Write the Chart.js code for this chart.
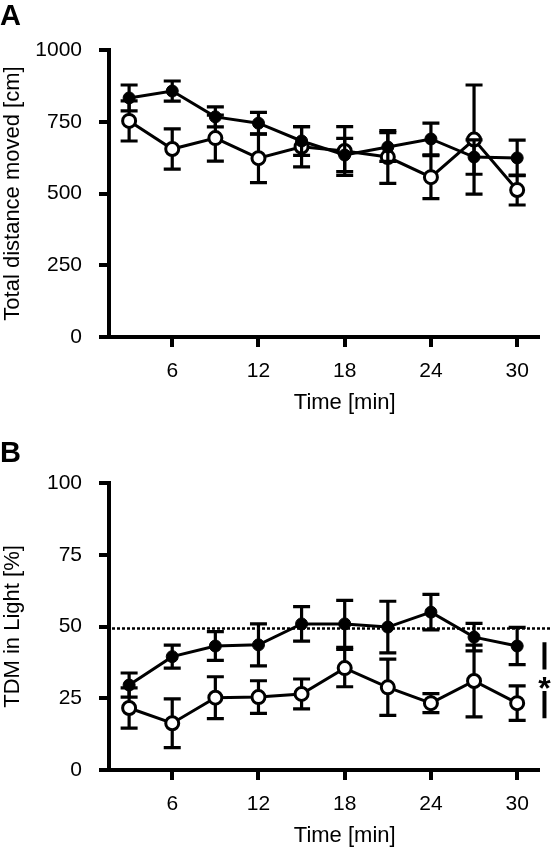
<!DOCTYPE html>
<html>
<head>
<meta charset="utf-8">
<script src="https://cdn.jsdelivr.net/npm/chart.js@4.4.1/dist/chart.umd.min.js"></script>
<style>
    html, body { margin: 0; padding: 0; background: #fff; }
    #wrap { position: relative; width: 552px; height: 853px; }
    canvas { position: absolute; left: 0; }
    #chartA { top: 0; }
    #chartB { top: 433px; }
</style>
</head>
<body>
<div id="wrap">
    <canvas id="chartA" width="552" height="433"></canvas>
    <canvas id="chartB" width="552" height="420"></canvas>
</div>
<script>
// time bins (min)
const timeMin = [3, 6, 9, 12, 15, 18, 21, 24, 27, 30];
const xTicks = [6, 12, 18, 24, 30];

// panel A: total distance moved [cm], mean and SEM
const distTicks = [0, 250, 500, 750, 1000];
const distFilled = [833, 857, 767, 745, 683, 634, 662, 690, 627, 624];
const distFilledErr = [45, 35, 35, 38, 50, 58, 50, 55, 60, 62];
const distOpen = [753, 655, 693, 623, 663, 648, 627, 557, 688, 512];
const distOpenErr = [70, 70, 80, 85, 70, 85, 92, 75, 190, 52];

// panel B: TDM in light [%], mean and SEM
const lightTicks = [0, 25, 50, 75, 100];
const lightFilled = [29.6, 39.5, 43.2, 43.6, 50.9, 50.9, 49.8, 55.0, 46.3, 43.2];
const lightFilledErr = [4.2, 4.0, 5.0, 7.3, 6.0, 8.2, 9.0, 6.2, 4.8, 6.5];
const lightOpen = [21.6, 16.3, 25.2, 25.4, 26.5, 35.5, 28.8, 23.3, 31.0, 23.3];
const lightOpenErr = [7.0, 8.5, 7.3, 5.7, 5.2, 6.5, 9.8, 3.3, 12.5, 6.0];
const chanceLevel = 49.3;

const fontFamily = '"Liberation Sans", Arial, Helvetica, sans-serif';

// error bars, drawn just before each dataset so the open circles cover them
const errorBars = {
    id: 'errorBars',
    beforeDatasetDraw(chart, args) {
        const ds = chart.data.datasets[args.index];
        if (!ds.errors) return;
        const { ctx, scales: { x, y } } = chart;
        ctx.save();
        ctx.strokeStyle = '#000';
        ctx.lineWidth = 3.2;
        ds.data.forEach((pt, i) => {
            const px = x.getPixelForValue(pt.x);
            const top = y.getPixelForValue(pt.y + ds.errors[i]);
            const bot = y.getPixelForValue(pt.y - ds.errors[i]);
            ctx.beginPath();
            ctx.moveTo(px, top); ctx.lineTo(px, bot);
            ctx.moveTo(px - 8.5, top); ctx.lineTo(px + 8.5, top);
            ctx.moveTo(px - 8.5, bot); ctx.lineTo(px + 8.5, bot);
            ctx.stroke();
        });
        ctx.restore();
    }
};

// panel letter, axis titles, reference line, significance mark
const panelDecor = {
    id: 'panelDecor',
    afterDraw(chart, args, opts) {
        const { ctx, chartArea, scales: { x, y } } = chart;
        ctx.save();
        ctx.fillStyle = '#000';
        ctx.strokeStyle = '#000';

        ctx.font = `bold 29px ${fontFamily}`;
        ctx.textAlign = 'left';
        ctx.textBaseline = 'top';
        ctx.fillText(opts.letter, 0, opts.letterTop);

        ctx.font = `22px ${fontFamily}`;
        ctx.textAlign = 'center';
        ctx.textBaseline = 'middle';
        ctx.fillText(opts.xTitle, x.getPixelForValue(18), y.getPixelForValue(0) + 66);

        ctx.save();
        ctx.translate(13, (chartArea.top + chartArea.bottom) / 2);
        ctx.rotate(-Math.PI / 2);
        ctx.fillText(opts.yTitle, 0, 0);
        ctx.restore();

        if (opts.refLevel != null) {
            const ry = y.getPixelForValue(opts.refLevel);
            ctx.lineWidth = 2.5;
            ctx.setLineDash([3, 2]);
            ctx.beginPath();
            ctx.moveTo(chartArea.left + 3, ry);
            ctx.lineTo(550, ry);
            ctx.stroke();
            ctx.setLineDash([]);
        }

        if (opts.sig) {
            const sx = x.getPixelForValue(opts.sig.x);
            ctx.lineWidth = 4;
            ctx.beginPath();
            ctx.moveTo(sx, y.getPixelForValue(opts.sig.upper[0]));
            ctx.lineTo(sx, y.getPixelForValue(opts.sig.upper[1]));
            ctx.moveTo(sx, y.getPixelForValue(opts.sig.lower[0]));
            ctx.lineTo(sx, y.getPixelForValue(opts.sig.lower[1]));
            ctx.stroke();
            ctx.font = `bold 32px ${fontFamily}`;
            ctx.textAlign = 'center';
            ctx.textBaseline = 'alphabetic';
            ctx.fillText('*', sx, y.getPixelForValue(opts.sig.star) + 18);
        }
        ctx.restore();
    }
};

function makeDatasets(filled, filledErr, open, openErr) {
    return [
        {
            data: timeMin.map((t, i) => ({ x: t, y: filled[i] })),
            errors: filledErr,
            borderColor: '#000',
            borderWidth: 3,
            pointRadius: 6,
            pointBorderWidth: 1,
            pointBackgroundColor: '#000',
            pointBorderColor: '#000',
            clip: false,
        },
        {
            data: timeMin.map((t, i) => ({ x: t, y: open[i] })),
            errors: openErr,
            borderColor: '#000',
            borderWidth: 3,
            pointRadius: 6.5,
            pointBorderWidth: 3,
            pointBackgroundColor: '#fff',
            pointBorderColor: '#000',
            clip: false,
        },
    ];
}

function axisStyle() {
    return {
        grid: { drawOnChartArea: false, drawTicks: true, tickLength: 10, lineWidth: 4, color: '#000' },
        border: { display: true, width: 4, color: '#000' },
    };
}

function buildChart(canvasId, datasets, yMax, yTicks, xAxisHeight, decor) {
    const ctx = document.getElementById(canvasId).getContext('2d');
    return new Chart(ctx, {
        type: 'line',
        data: { datasets },
        options: {
            responsive: false,
            animation: false,
            events: [],
            layout: { padding: { top: 50, right: 14, bottom: 0, left: 0 } },
            plugins: {
                legend: { display: false },
                tooltip: { enabled: false },
                panelDecor: decor,
            },
            scales: {
                x: {
                    type: 'linear',
                    min: 1.6,
                    max: 31.45,
                    afterBuildTicks: (s) => { s.ticks = xTicks.map((v) => ({ value: v })); },
                    afterFit: (s) => { s.height = xAxisHeight; },
                    ...axisStyle(),
                    ticks: {
                        color: '#000', font: { size: 21, family: fontFamily }, padding: 12, maxRotation: 0,
                        callback: (v) => String(v),
                    },
                },
                y: {
                    min: 0,
                    max: yMax,
                    afterBuildTicks: (s) => { s.ticks = yTicks.map((v) => ({ value: v })); },
                    afterFit: (s) => { s.width = 109; },
                    ...axisStyle(),
                    ticks: {
                        color: '#000', font: { size: 21, family: fontFamily }, padding: 17,
                        callback: (v) => String(v),
                    },
                },
            },
        },
        plugins: [errorBars, panelDecor],
    });
}

buildChart('chartA', makeDatasets(distFilled, distFilledErr, distOpen, distOpenErr),
    1000, distTicks, 96,
    { letter: 'A', letterTop: 2, xTitle: 'Time [min]', yTitle: 'Total distance moved [cm]' });

buildChart('chartB', makeDatasets(lightFilled, lightFilledErr, lightOpen, lightOpenErr),
    100, lightTicks, 83,
    {
        letter: 'B', letterTop: 6, xTitle: 'Time [min]', yTitle: 'TDM in Light [%]',
        refLevel: chanceLevel,
        sig: { x: 31.9, upper: [44.5, 35], lower: [27.5, 18], star: 31 },
    });
</script>
</body>
</html>
